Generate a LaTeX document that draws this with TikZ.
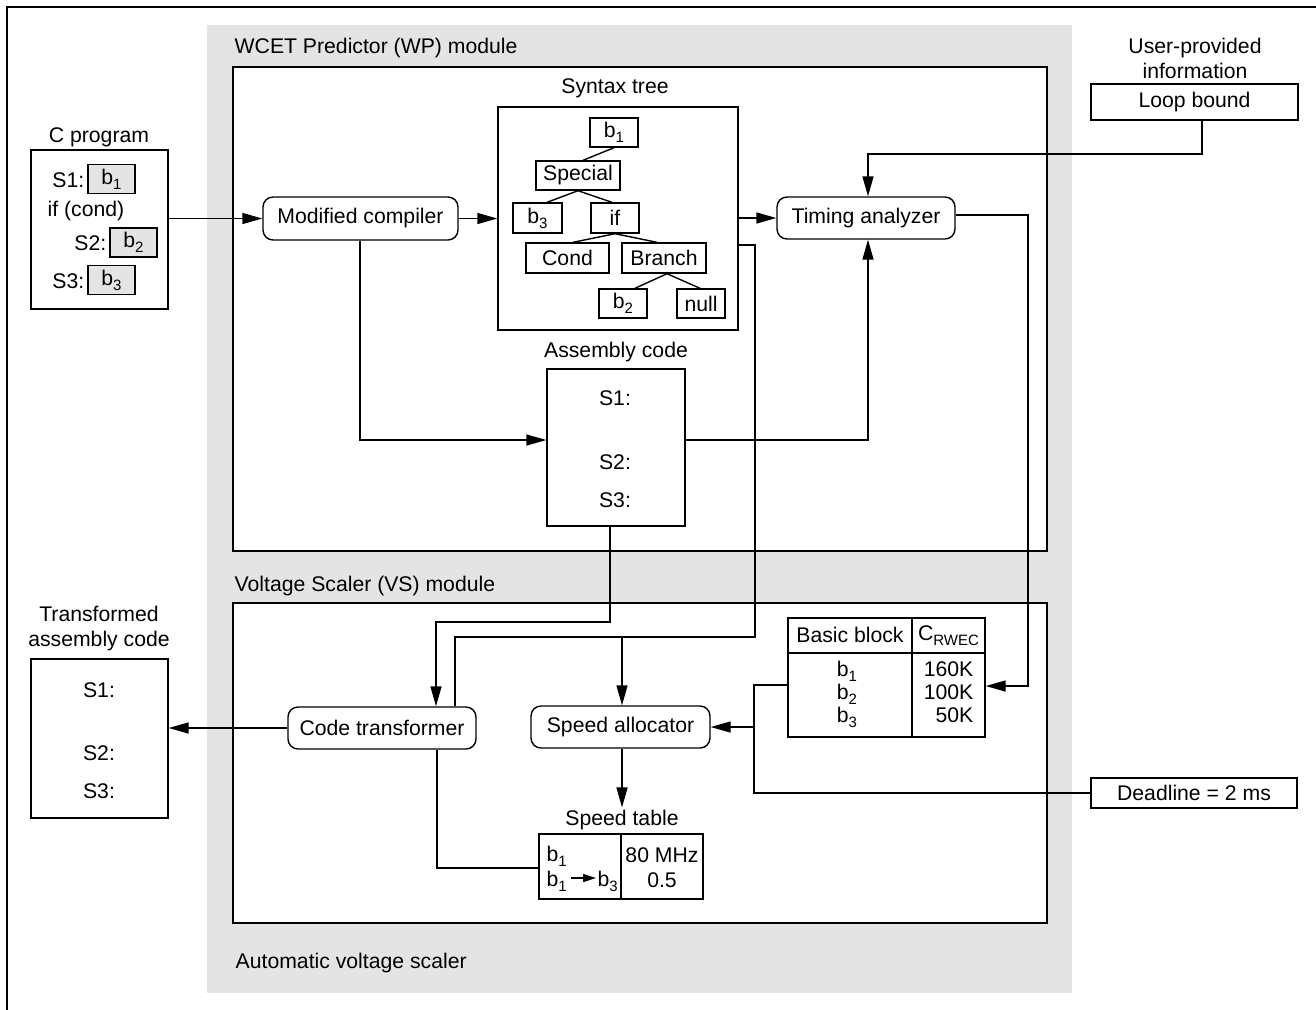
\documentclass[tikz,border=0pt]{standalone}
\usepackage{fontspec}
\setmainfont{Liberation Sans}
\usetikzlibrary{arrows.meta}
\definecolor{bggray}{HTML}{E4E4E4}
\newcommand\lsub[1]{\raisebox{-0.45ex}{\fontsize{7.5pt}{8pt}\selectfont #1}}
\begin{document}
\begin{tikzpicture}[x=0.5pt,y=-0.5pt,
  font=\fontsize{10.6pt}{12.5pt}\selectfont, line width=0.7pt,
  box/.style={draw, rectangle, inner sep=0pt},
  rbox/.style={draw, rectangle, rounded corners=5pt, inner sep=0pt, minimum height=21pt},
  gbox/.style={draw, fill=bggray, inner sep=0pt, minimum width=23.5pt, minimum height=14.5pt},
  tbox/.style={draw, inner sep=0pt, minimum height=14.5pt},
  lbl/.style={inner sep=0pt, align=center},
  arr/.style={-{Triangle[length=10pt,width=5.5pt]}},
  sarr/.style={-{Triangle[length=6.5pt,width=4pt]}}]
\useasboundingbox (0,0) rectangle (1316,1009);
% background and frame
\fill[bggray] (207,25) rectangle (1072,993);
\draw (7,1012) -- (7,7) -- (1320,7);

% module boxes
\node[box, fill=white, minimum width=407pt, minimum height=242pt] (wp) at (640,309) {};
\node[box, fill=white, minimum width=407pt, minimum height=160pt] (vs) at (640,763) {};
\node[lbl, anchor=west] (wplbl) at (234,48) {WCET Predictor (WP) module};
\node[lbl, anchor=west] (vslbl) at (234,586) {Voltage Scaler (VS) module};
\node[lbl, anchor=west] (avslbl) at (235,963) {Automatic voltage scaler};

% C program
\node[lbl] (cproglbl) at (99,137) {C program};
\node[box, minimum width=68.5pt, minimum height=79.5pt] (cprog) at (99.5,229.5) {};
\node[gbox] (cb1) at (111.5,179) {b\lsub{1}};
\node[gbox] (cb2) at (133.5,242.5) {b\lsub{2}};
\node[gbox] (cb3) at (111.5,280) {b\lsub{3}};
\node[lbl, anchor=east] (cs1) at (85,180) {S1:};
\node[lbl, anchor=west] (cif) at (47,211) {if (cond)};
\node[lbl, anchor=east] (cs2) at (107,243) {S2:};
\node[lbl, anchor=east] (cs3) at (85,281) {S3:};

% compiler
\node[rbox, minimum width=97.5pt, minimum height=21.5pt] (compiler) at (360.5,218.5) {Modified compiler};

% syntax tree
\node[lbl] (synlbl) at (615,88) {Syntax tree};
\node[box, minimum width=120pt, minimum height=111.5pt] (syntax) at (618,218.5) {};
\node[tbox, minimum width=24pt] (tb1) at (614,132.5) {b\lsub{1}};
\node[tbox, minimum width=42pt] (special) at (578,175.5) {Special};
\node[tbox, minimum width=24.5pt, minimum height=15pt] (tb3) at (537.5,218) {b\lsub{3}};
\node[tbox, minimum width=24pt, minimum height=15pt] (tif) at (615,218) {if};
\node[tbox, minimum width=41.5pt, minimum height=15pt] (cond) at (567.5,258) {Cond};
\node[tbox, minimum width=42pt, minimum height=15pt] (branch) at (664,258) {Branch};
\node[tbox, minimum width=24pt] (tb2) at (623,303.5) {b\lsub{2}};
\node[tbox, minimum width=24pt] (tnull) at (701,303.5) {null};
\draw (tb1.south) -- ([xshift=2.5pt]special.north);
\draw (special.south) -- ([xshift=4.75pt]tb3.north);
\draw (special.south) -- ([xshift=-1.5pt]tif.north);
\draw (tif.south) -- ([xshift=2.75pt]cond.north);
\draw (tif.south) -- ([xshift=-3.5pt]branch.north);
\draw ([xshift=1.5pt]branch.south) -- ([xshift=6pt]tb2.north);
\draw ([xshift=1.5pt]branch.south) -- ([xshift=-0.5pt]tnull.north);

% timing analyzer
\node[rbox, minimum width=89pt] (timing) at (866,218) {Timing analyzer};

% user provided
\node[lbl] (userlbl) at (1195,58.5) {User-provided\\information};
\node[box, minimum width=103.5pt, minimum height=18pt] (loop) at (1194.5,102) {Loop bound};

% assembly code
\node[lbl] (asmlbl) at (616,352) {Assembly code};
\node[box, minimum width=69pt, minimum height=78.5pt] (asm) at (616,447.5) {};
\node[lbl] (as1) at (615,398) {S1:};
\node[lbl] (as2) at (615,462) {S2:};
\node[lbl] (as3) at (615,500) {S3:};

% transformed assembly code
\node[lbl] (trlbl) at (99,628) {Transformed\\assembly code};
\node[box, minimum width=68.5pt, minimum height=79.5pt] (trans) at (99.5,738.5) {};
\node[lbl] (ts1) at (99,690) {S1:};
\node[lbl] (ts2) at (99,753) {S2:};
\node[lbl] (ts3) at (99,791) {S3:};

% VS module content
\node[rbox, minimum width=94pt] (codetrans) at (382,728) {Code transformer};
\node[rbox, minimum width=89.5pt] (speedalloc) at (620.5,727) {Speed allocator};

% basic block table
\node[box, minimum width=62pt, minimum height=17.5pt] (bbhL) at (850,635.5) {};
\node[box, minimum width=36.5pt, minimum height=17.5pt] (bbhR) at (948.5,635.5) {};
\node[box, minimum width=62pt, minimum height=42pt] (bbL) at (850,695) {};
\node[box, minimum width=36.5pt, minimum height=42pt] (bbR) at (948.5,695) {};
\node[lbl] (bbt1) at (850,635) {Basic block};
\node[lbl] (bbt2) at (948.5,636) {C\lsub{RWEC}};
\node[lbl] (bbr1) at (847,671) {b\lsub{1}};
\node[lbl] (bbr2) at (847,694) {b\lsub{2}};
\node[lbl] (bbr3) at (847,717) {b\lsub{3}};
\node[lbl, anchor=east] (bbv1) at (974,669) {160K};
\node[lbl, anchor=east] (bbv2) at (974,692) {100K};
\node[lbl, anchor=east] (bbv3) at (974,715) {50K};

% deadline
\node[box, minimum width=103pt, minimum height=15pt] (deadline) at (1194,793) {Deadline = 2 ms};

% speed table
\node[lbl] (stlbl) at (622,820) {Speed table};
\node[box, minimum width=41pt, minimum height=32.5pt] (stL) at (580,866.5) {};
\node[box, minimum width=41pt, minimum height=32.5pt] (stR) at (662,866.5) {};
\node[lbl, anchor=west] (sb1) at (546,856) {b\lsub{1}};
\node[lbl, anchor=west] (sb1b) at (546,881) {b\lsub{1}};
\node[lbl, anchor=west] (sb3) at (597,881) {b\lsub{3}};
\node[lbl] (sf) at (662,855) {80 MHz};
\node[lbl] (sv) at (662,880) {0.5};
\draw[sarr] ([xshift=1.5pt,yshift=1.5pt]sb1b.east) -- ([xshift=-0.5pt,yshift=1.5pt]sb3.west);

% coordinates for connectors
\coordinate (lp1) at (1202,154);
\coordinate (tx) at (868,440);
\coordinate (cx) at (360,440);
\coordinate (a1) at (610,622);
\coordinate (a2) at (436,622);
\coordinate (s1) at (755,245);
\coordinate (s2) at (755,637);
\coordinate (s3) at (455,637);
\coordinate (s4) at (622,637);
\coordinate (t1) at (1028,215);
\coordinate (t2) at (1028,686);
\coordinate (j1) at (754,685);
\coordinate (j2) at (754,727);
\coordinate (j3) at (754,793);
\coordinate (c1) at (437,868);

% connectors
\draw[arr] (cprog.east |- compiler.west) -- (compiler.west);
\draw[arr] (compiler.east) -- (syntax.west |- compiler.east);
\draw[arr] (syntax.east |- timing.west) -- (timing.west);
\draw[arr] (loop.south -| lp1) -- (lp1) -| (timing.north -| tx);
\draw[arr] (cx |- compiler.south) -- (cx) -- (asm.west |- cx);
\draw[arr] (asm.east |- tx) -- (tx) -- (timing.south -| tx);
\draw[arr] (asm.south -| a1) -- (a1) -- (a2) -- (a2 |- codetrans.north);
\draw (syntax.east |- s1) -- (s1) -- (s2) -- (s3) -- (s3 |- codetrans.north);
\draw[arr] (s4) -- (s4 |- speedalloc.north);
\draw[arr] (timing.east |- t1) -- (t1) -- (t2) -- (t2 -| bbR.east);
\draw (bbL.west |- j1) -- (j1) -- (j3) -- (deadline.west |- j3);
\draw[arr] (j2) -- (speedalloc.east |- j2);
\draw[arr] (codetrans.west) -- (trans.east |- codetrans.west);
\draw (codetrans.south -| c1) -- (c1) -- (stL.west |- c1);
\draw[arr] (speedalloc.south -| s4) -- ([yshift=1pt]stlbl.north -| s4);
\end{tikzpicture}
\end{document}
